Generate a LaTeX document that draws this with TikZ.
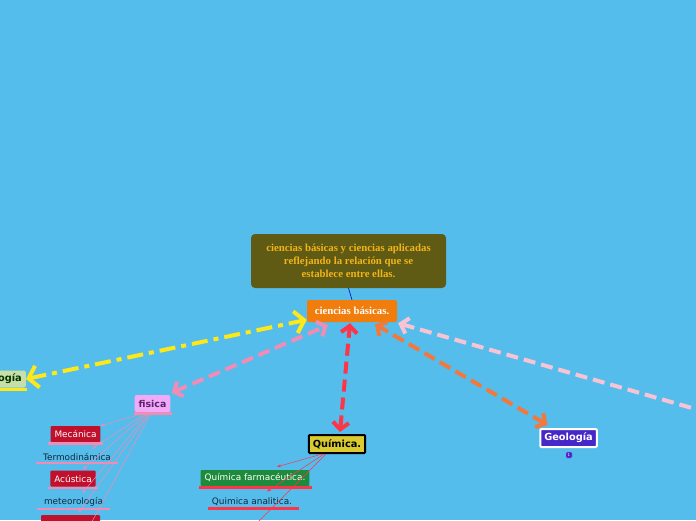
\documentclass[tikz,border=0pt]{standalone}
\usepackage{fontspec}
\setmainfont{DejaVu Sans}
\newfontfamily\titulofont{Liberation Serif}
\definecolor{fondo}{RGB}{85, 189, 235}
\definecolor{oliva}{RGB}{95, 90, 20}
\definecolor{oro}{RGB}{242, 180, 22}
\definecolor{naranja}{RGB}{240, 125, 12}
\definecolor{amarillo}{RGB}{255, 232, 26}
\definecolor{rosa}{RGB}{240, 140, 182}
\definecolor{rosaclaro}{RGB}{248, 196, 212}
\definecolor{rojo}{RGB}{255, 52, 70}
\definecolor{naranjalinea}{RGB}{242, 120, 60}
\definecolor{lila}{RGB}{240, 170, 248}
\definecolor{morado}{RGB}{96, 32, 112}
\definecolor{carmin}{RGB}{192, 16, 44}
\definecolor{limon}{RGB}{216, 204, 48}
\definecolor{verde}{RGB}{30, 138, 60}
\definecolor{violeta}{RGB}{70, 40, 200}
\definecolor{pasto}{RGB}{200, 224, 168}
\definecolor{textooscuro}{RGB}{20, 40, 60}
\usetikzlibrary{arrows.meta, positioning}

\begin{document}
\begin{tikzpicture}[x=1pt, y=-1pt,
  tema/.style={rounded corners=2pt, inner xsep=4pt, minimum height=18pt, font=\bfseries\fontsize{9.8}{11}\selectfont},
  hijo/.style={rounded corners=1pt, inner xsep=4pt, minimum height=16pt, text=white, font=\fontsize{8.9}{10}\selectfont},
  suelto/.style={inner xsep=4pt, minimum height=14pt, text=textooscuro, font=\fontsize{8.9}{10}\selectfont},
  rama/.style={line width=4pt, dash pattern=on 12pt off 6pt},
  hilo/.style={line width=0.5pt, -{Stealth[length=4pt, width=3pt]}},
  barra/.style={line width=2.5pt}
]
  \useasboundingbox (0,0) rectangle (696,520);
  \fill[fondo] (0,0) rectangle (696,520);
  \clip (0,0) rectangle (696,520);

  % idea central
  \node[fill=oliva, rounded corners=4pt, minimum width=195pt, minimum height=54pt, align=center,
        text=oro, font=\titulofont\bfseries\fontsize{10.8}{13}\selectfont] (titulo) at (348.5,261)
    {ciencias básicas y ciencias aplicadas\\reflejando la relación que se\\establece entre ellas.};
  \node[fill=naranja, rounded corners=2pt, minimum width=90pt, minimum height=22pt,
        text=white, font=\titulofont\bfseries\fontsize{10.8}{12}\selectfont] (basicas) at (352,311)
    {ciencias básicas.};
  \draw[blue!70!black, line width=0.6pt] (titulo.south) -- (basicas.north);

  % temas
  \node[tema, fill=pasto, text=green!20!black, anchor=east, minimum height=17pt] (biologia) at (26,379) {Biología};
  \node[tema, fill=lila, text=morado, minimum height=17pt, font=\bfseries\fontsize{9.4}{11}\selectfont] (fisica) at (152.5,403.5) {fisica};
  \node[tema, fill=limon, text=black, draw=black, line width=2pt, rounded corners=1pt] (quimica) at (337,444) {Química.};
  \node[tema, fill=violeta, text=white, draw=white, line width=2pt, rounded corners=1pt] (geologia) at (568.5,438) {Geología};
  \node[fill=violeta, draw=violeta!60, rounded corners=1pt, inner sep=1pt, minimum size=6pt,
        text=white, font=\fontsize{4}{4}\selectfont] (nota) at (569,455) {1};
  \coordinate (aplicadas) at (730,419);

  \draw[barra, amarillo] ([yshift=-2pt]biologia.south west) -- ([xshift=1pt, yshift=-2pt]biologia.south east);
  \draw[barra, rosa] ([yshift=-1.5pt]fisica.south west) -- ([xshift=1pt, yshift=-1.5pt]fisica.south east);

  % ramas
  \draw[rama, amarillo, dash pattern=on 16pt off 6pt on 5pt off 6pt,
        {Straight Barb[length=9pt, width=22pt]}-{Straight Barb[length=9pt, width=22pt]}]
    (biologia.east) -- (basicas.191);
  \draw[rama, rosa, {Straight Barb[length=7pt, width=16pt]}-{Straight Barb[length=7pt, width=16pt]}]
    ([xshift=1pt, yshift=2pt]fisica.north east) -- ([xshift=-24pt, yshift=-3pt]basicas.south);
  \draw[rama, rojo, {Straight Barb[length=7pt, width=16pt]}-{Straight Barb[length=7pt, width=16pt]}]
    ([xshift=3pt, yshift=2pt]quimica.north) -- ([xshift=-2pt, yshift=-1pt]basicas.south);
  \draw[rama, naranjalinea, {Straight Barb[length=7pt, width=16pt]}-{Straight Barb[length=7pt, width=16pt]}]
    ([xshift=-21pt, yshift=3pt]geologia.north) -- ([xshift=23pt, yshift=-2pt]basicas.south);
  \draw[rama, rosaclaro, {Straight Barb[length=7pt, width=16pt]}-{Straight Barb[length=7pt, width=16pt]}]
    (aplicadas) -- ([xshift=1pt, yshift=-1pt]basicas.south east);

  % fisica
  \node[hijo, fill=carmin] (mecanica) at (75.5,434) {Mecánica};
  \node[suelto] (termo) at (77,457) {Termodinámica};
  \node[hijo, fill=carmin] (acustica) at (73,478.5) {Acústica};
  \node[suelto] (meteoro) at (73.5,502) {meteorología};
  \node[hijo, fill=carmin, minimum width=59pt] (otrafisica) at (70.5,523) {};
  \coordinate (masfisica) at (82,540);
  \foreach \n in {mecanica, acustica, otrafisica}
    \draw[barra, rosa] ([xshift=-2pt, yshift=-1.5pt]\n.south west) -- ([xshift=2pt, yshift=-1.5pt]\n.south east);
  \foreach \n in {termo, meteoro}
    \draw[barra, rosa] ([xshift=-3pt, yshift=1pt]\n.south west) -- ([xshift=3pt, yshift=1pt]\n.south east);
  \draw[hilo, rosa] ([xshift=-6pt]fisica.south) -- (mecanica.north east);
  \draw[hilo, rosa] ([xshift=-5pt]fisica.south) -- ([xshift=15pt, yshift=1pt]termo.north);
  \draw[hilo, rosa] ([xshift=-4pt]fisica.south) -- ([xshift=10pt, yshift=1pt]acustica.north);
  \draw[hilo, rosa] ([xshift=-3pt]fisica.south) -- ([xshift=9pt, yshift=1pt]meteoro.north);
  \draw[hilo, rosa] ([xshift=-2pt]fisica.south) -- ([xshift=8pt, yshift=2pt]otrafisica.north);
  \draw[hilo, rosa] ([xshift=-1pt]fisica.south) -- (masfisica);

  % quimica
  \node[hijo, fill=verde] (farmacia) at (255,478) {Química farmacéutica.};
  \node[suelto] (analitica) at (252,502) {Quimica analitica.};
  \coordinate (masquimica) at (250,530);
  \draw[barra, rojo] ([xshift=-1pt, yshift=-1.5pt]farmacia.south west) -- ([xshift=2pt, yshift=-1.5pt]farmacia.south east);
  \draw[barra, rojo] ([yshift=1pt]analitica.south west) -- ([xshift=3pt, yshift=1pt]analitica.south east);
  \draw[hilo, rojo] ([xshift=-15pt]quimica.south) -- ([xshift=22pt, yshift=3pt]farmacia.north);
  \draw[hilo, rojo] ([xshift=-13pt]quimica.south) -- ([xshift=15pt, yshift=3pt]analitica.north);
  \draw[hilo, rojo] ([xshift=-11pt]quimica.south) -- (masquimica);
\end{tikzpicture}
\end{document}
